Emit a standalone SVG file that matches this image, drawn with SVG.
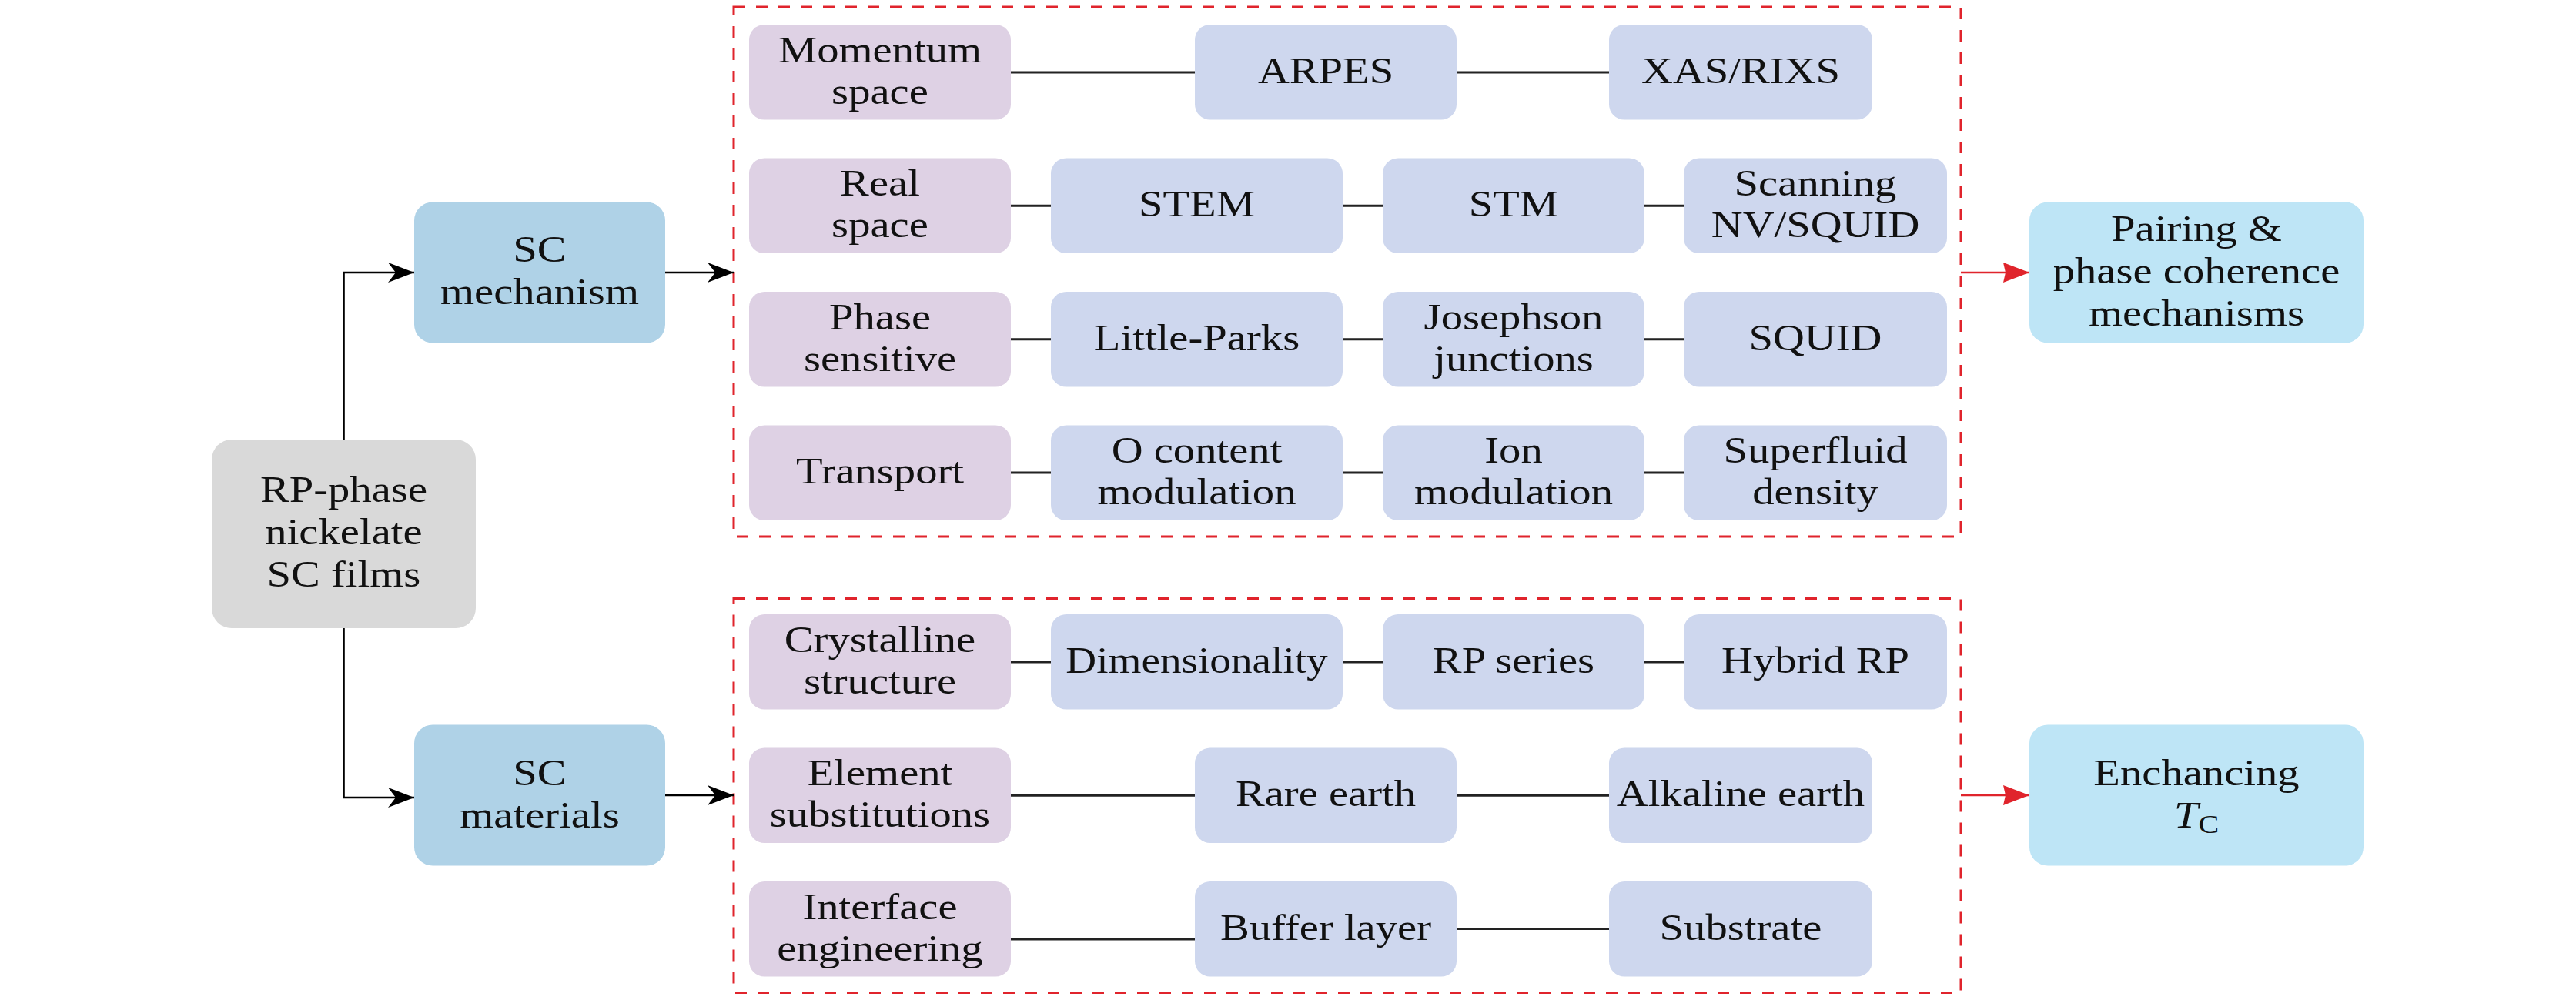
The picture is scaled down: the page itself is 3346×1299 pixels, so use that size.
<svg xmlns="http://www.w3.org/2000/svg" width="3346" height="1299" viewBox="0 0 3346 1299">
<defs>
<style>
text{font-family:"Liberation Serif","Times New Roman",serif;font-size:48px;fill:#111;text-anchor:middle}
.pu{fill:#ded1e4}
.bl{fill:#ced7ee}
.sc{fill:#afd2e7}
.rt{fill:#bee5f6}
.gr{fill:#d9d9d9}
.ln{stroke:#222;stroke-width:3;fill:none}
.ar{stroke:#000;stroke-width:2.6;fill:none;marker-end:url(#stealth)}
.ra{stroke:#e0242c;stroke-width:2.6;fill:none;marker-end:url(#redtip)}
.dash{stroke:#e0242c;stroke-width:3;fill:none;stroke-dasharray:15 14}
</style>
<marker id="stealth" markerUnits="userSpaceOnUse" viewBox="-36 -15 38 30" refX="0" refY="0" markerWidth="38" markerHeight="30" orient="auto">
<path d="M0,0 L-34,-13 L-24,0 L-34,13 Z" fill="#000"/>
</marker>
<marker id="redtip" markerUnits="userSpaceOnUse" viewBox="-36 -15 38 30" refX="0" refY="0" markerWidth="38" markerHeight="30" orient="auto">
<path d="M0,0 L-34,-13 L-31,0 L-34,13 Z" fill="#e0242c"/>
</marker>
</defs>
<rect width="3346" height="1299" fill="#fff"/>

<g id="groups">
<rect class="dash" x="953" y="9" width="1594" height="688"/>
<rect class="dash" x="953" y="777.5" width="1594" height="512"/>
</g>

<g id="connectors">
<path class="ar" d="M446.5 571 V354 H538"/>
<path class="ar" d="M446.5 816 V1036 H538"/>
<path class="ar" d="M864 354 H953"/>
<path class="ar" d="M864 1033 H953"/>
<path class="ra" d="M2547 354 H2636"/>
<path class="ra" d="M2547 1033 H2636"/>
<path class="ln" d="M1313 94 H1552 M1892 94 H2090"/>
<path class="ln" d="M1313 267.3 H1365 M1744 267.3 H1796 M2136 267.3 H2187"/>
<path class="ln" d="M1313 440.7 H1365 M1744 440.7 H1796 M2136 440.7 H2187"/>
<path class="ln" d="M1313 614 H1365 M1744 614 H1796 M2136 614 H2187"/>
<path class="ln" d="M1313 860 H1365 M1744 860 H1796 M2136 860 H2187"/>
<path class="ln" d="M1313 1033.3 H1552 M1892 1033.3 H2090"/>
<path class="ln" d="M1313 1220 H1552 M1892 1206.5 H2090"/>
</g>

<g id="rp">
<rect class="gr" x="275" y="571" width="343" height="245" rx="26"/>
<text transform="matrix(1.18 0 0 1 446.5 0)" x="0" y="652">RP-phase</text>
<text transform="matrix(1.18 0 0 1 446.5 0)" x="0" y="707.5">nickelate</text>
<text transform="matrix(1.18 0 0 1 446.5 0)" x="0" y="762.5">SC films</text>
</g>

<g id="sc-mechanism">
<rect class="sc" x="538" y="262.5" width="326" height="183" rx="24"/>
<text transform="matrix(1.18 0 0 1 701 0)" x="0" y="340.5">SC</text>
<text transform="matrix(1.18 0 0 1 701 0)" x="0" y="395.5">mechanism</text>
</g>

<g id="sc-materials">
<rect class="sc" x="538" y="941.5" width="326" height="183" rx="24"/>
<text transform="matrix(1.18 0 0 1 701 0)" x="0" y="1020">SC</text>
<text transform="matrix(1.18 0 0 1 701 0)" x="0" y="1075">materials</text>
</g>

<g id="pairing">
<rect class="rt" x="2636" y="262.5" width="434" height="183" rx="24"/>
<text transform="matrix(1.18 0 0 1 2853 0)" x="0" y="313.5">Pairing &amp;</text>
<text transform="matrix(1.18 0 0 1 2853 0)" x="0" y="368.5">phase coherence</text>
<text transform="matrix(1.18 0 0 1 2853 0)" x="0" y="423.5">mechanisms</text>
</g>

<g id="enhancing">
<rect class="rt" x="2636" y="941.5" width="434" height="183" rx="24"/>
<text transform="matrix(1.18 0 0 1 2853 0)" x="0" y="1020">Enchancing</text>
<text transform="matrix(1.18 0 0 1 2853 0)" x="0" y="1075"><tspan font-style="italic">T</tspan><tspan font-size="34" dy="7">C</tspan></text>
</g>

<!-- Row 1 top -->
<g id="momentum">
<rect class="pu" x="973" y="32" width="340" height="123.5" rx="20"/>
<text transform="matrix(1.18 0 0 1 1143 0)" x="0" y="81">Momentum</text>
<text transform="matrix(1.18 0 0 1 1143 0)" x="0" y="135">space</text>
</g>
<g id="arpes">
<rect class="bl" x="1552" y="32" width="340" height="123.5" rx="20"/>
<text transform="matrix(1.18 0 0 1 1722 0)" x="0" y="108">ARPES</text>
</g>
<g id="xas">
<rect class="bl" x="2090" y="32" width="342" height="123.5" rx="20"/>
<text transform="matrix(1.18 0 0 1 2261 0)" x="0" y="108">XAS/RIXS</text>
</g>

<!-- Row 2 top -->
<g id="real-space">
<rect class="pu" x="973" y="205.5" width="340" height="123.5" rx="20"/>
<text transform="matrix(1.18 0 0 1 1143 0)" x="0" y="254.5">Real</text>
<text transform="matrix(1.18 0 0 1 1143 0)" x="0" y="308.5">space</text>
</g>
<g id="stem">
<rect class="bl" x="1365" y="205.5" width="379" height="123.5" rx="20"/>
<text transform="matrix(1.18 0 0 1 1554.5 0)" x="0" y="281.5">STEM</text>
</g>
<g id="stm">
<rect class="bl" x="1796" y="205.5" width="340" height="123.5" rx="20"/>
<text transform="matrix(1.18 0 0 1 1966 0)" x="0" y="281.5">STM</text>
</g>
<g id="scanning">
<rect class="bl" x="2187" y="205.5" width="342" height="123.5" rx="20"/>
<text transform="matrix(1.18 0 0 1 2358 0)" x="0" y="254.5">Scanning</text>
<text transform="matrix(1.18 0 0 1 2358 0)" x="0" y="308.5">NV/SQUID</text>
</g>

<!-- Row 3 top -->
<g id="phase-sensitive">
<rect class="pu" x="973" y="379" width="340" height="123.5" rx="20"/>
<text transform="matrix(1.18 0 0 1 1143 0)" x="0" y="428">Phase</text>
<text transform="matrix(1.18 0 0 1 1143 0)" x="0" y="482">sensitive</text>
</g>
<g id="little-parks">
<rect class="bl" x="1365" y="379" width="379" height="123.5" rx="20"/>
<text transform="matrix(1.18 0 0 1 1554.5 0)" x="0" y="455">Little-Parks</text>
</g>
<g id="josephson">
<rect class="bl" x="1796" y="379" width="340" height="123.5" rx="20"/>
<text transform="matrix(1.18 0 0 1 1966 0)" x="0" y="428">Josephson</text>
<text transform="matrix(1.18 0 0 1 1966 0)" x="0" y="482">junctions</text>
</g>
<g id="squid">
<rect class="bl" x="2187" y="379" width="342" height="123.5" rx="20"/>
<text transform="matrix(1.18 0 0 1 2358 0)" x="0" y="455">SQUID</text>
</g>

<!-- Row 4 top -->
<g id="transport">
<rect class="pu" x="973" y="552.5" width="340" height="123.5" rx="20"/>
<text transform="matrix(1.18 0 0 1 1143 0)" x="0" y="628">Transport</text>
</g>
<g id="o-content">
<rect class="bl" x="1365" y="552.5" width="379" height="123.5" rx="20"/>
<text transform="matrix(1.18 0 0 1 1554.5 0)" x="0" y="601.5">O content</text>
<text transform="matrix(1.18 0 0 1 1554.5 0)" x="0" y="655.5">modulation</text>
</g>
<g id="ion">
<rect class="bl" x="1796" y="552.5" width="340" height="123.5" rx="20"/>
<text transform="matrix(1.18 0 0 1 1966 0)" x="0" y="601.5">Ion</text>
<text transform="matrix(1.18 0 0 1 1966 0)" x="0" y="655.5">modulation</text>
</g>
<g id="superfluid">
<rect class="bl" x="2187" y="552.5" width="342" height="123.5" rx="20"/>
<text transform="matrix(1.18 0 0 1 2358 0)" x="0" y="601.5">Superfluid</text>
<text transform="matrix(1.18 0 0 1 2358 0)" x="0" y="655.5">density</text>
</g>

<!-- Lower row 1 -->
<g id="crystalline">
<rect class="pu" x="973" y="798" width="340" height="123.5" rx="20"/>
<text transform="matrix(1.18 0 0 1 1143 0)" x="0" y="847">Crystalline</text>
<text transform="matrix(1.18 0 0 1 1143 0)" x="0" y="901">structure</text>
</g>
<g id="dimensionality">
<rect class="bl" x="1365" y="798" width="379" height="123.5" rx="20"/>
<text transform="matrix(1.15 0 0 1 1554.5 0)" x="0" y="874">Dimensionality</text>
</g>
<g id="rp-series">
<rect class="bl" x="1796" y="798" width="340" height="123.5" rx="20"/>
<text transform="matrix(1.18 0 0 1 1966 0)" x="0" y="874">RP series</text>
</g>
<g id="hybrid-rp">
<rect class="bl" x="2187" y="798" width="342" height="123.5" rx="20"/>
<text transform="matrix(1.18 0 0 1 2358 0)" x="0" y="874">Hybrid RP</text>
</g>

<!-- Lower row 2 -->
<g id="element">
<rect class="pu" x="973" y="971.5" width="340" height="123.5" rx="20"/>
<text transform="matrix(1.18 0 0 1 1143 0)" x="0" y="1020">Element</text>
<text transform="matrix(1.18 0 0 1 1143 0)" x="0" y="1074">substitutions</text>
</g>
<g id="rare-earth">
<rect class="bl" x="1552" y="971.5" width="340" height="123.5" rx="20"/>
<text transform="matrix(1.18 0 0 1 1722 0)" x="0" y="1047">Rare earth</text>
</g>
<g id="alkaline-earth">
<rect class="bl" x="2090" y="971.5" width="342" height="123.5" rx="20"/>
<text transform="matrix(1.18 0 0 1 2261 0)" x="0" y="1047">Alkaline earth</text>
</g>

<!-- Lower row 3 -->
<g id="interface">
<rect class="pu" x="973" y="1145" width="340" height="123.5" rx="20"/>
<text transform="matrix(1.18 0 0 1 1143 0)" x="0" y="1194">Interface</text>
<text transform="matrix(1.18 0 0 1 1143 0)" x="0" y="1248">engineering</text>
</g>
<g id="buffer">
<rect class="bl" x="1552" y="1145" width="340" height="123.5" rx="20"/>
<text transform="matrix(1.18 0 0 1 1722 0)" x="0" y="1221">Buffer layer</text>
</g>
<g id="substrate">
<rect class="bl" x="2090" y="1145" width="342" height="123.5" rx="20"/>
<text transform="matrix(1.18 0 0 1 2261 0)" x="0" y="1221">Substrate</text>
</g>
</svg>
